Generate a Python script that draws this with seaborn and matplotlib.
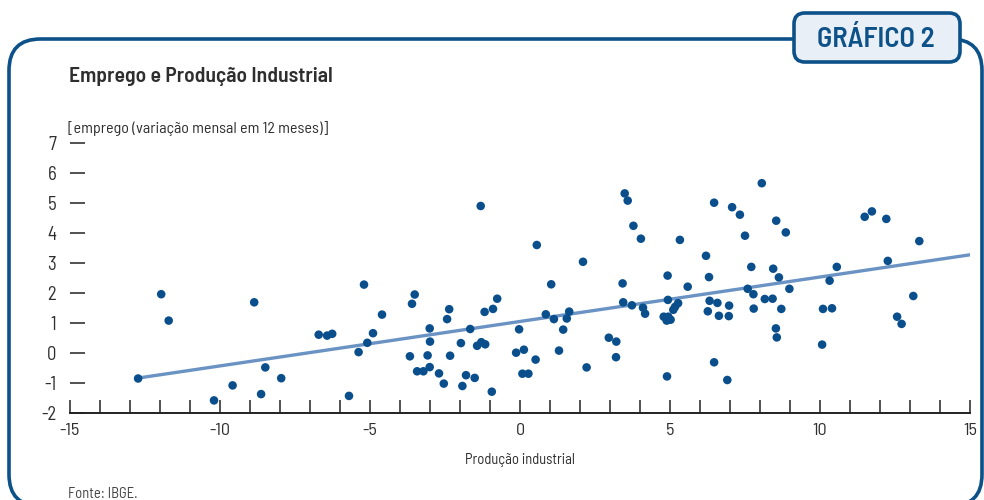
import numpy as np
import pandas as pd
import matplotlib
matplotlib.use("Agg")
import matplotlib.pyplot as plt
from matplotlib.patches import FancyBboxPatch
from matplotlib.ticker import MultipleLocator
import seaborn as sns

# Produção industrial (x) vs. emprego (y), variação em 12 meses
producao = [
    -12.73, -11.96, -11.71, -8.86, -8.49, -9.58, -10.20, -8.63, -7.96, -6.71,
    -6.43, -6.26, -5.20, -5.70, -5.38, -5.09, -4.90, -4.60, -3.51, -3.60,
    -3.67, -3.43, -3.22, -3.01, -3.08, -3.00, -3.01, -2.70, -2.54, -2.33,
    -2.43, -2.36, -1.97, -1.80, -1.92, -1.66, -1.51, -1.43, -1.29, -1.16,
    -1.31, -1.18, -0.90, -0.76, -0.94, -0.13, -0.03, 0.13, 0.08, 0.28,
    0.52, 0.56, 1.04, 0.86, 1.13, 1.30, 1.56, 1.64, 1.44, 2.22,
    2.10, 2.96, 3.21, 3.20, 3.42, 3.44, 3.73, 3.49, 3.59, 3.78,
    4.03, 4.10, 4.17, 4.92, 4.93, 4.79, 4.89, 5.02, 4.94, 4.90,
    5.11, 5.17, 5.27, 5.33, 5.59, 6.20, 6.30, 6.32, 6.26, 6.58,
    6.63, 6.47, 6.47, 6.91, 6.97, 6.96, 7.07, 7.33, 7.50, 7.59,
    7.71, 7.78, 7.79, 8.06, 8.16, 8.42, 8.44, 8.54, 8.63, 8.71,
    8.53, 8.56, 8.86, 8.98, 10.07, 10.10, 10.40, 10.32, 10.56, 11.49,
    11.73, 12.21, 12.26, 13.31, 13.11, 12.57, 12.72,
]
emprego = [
    -0.85, 1.96, 1.08, 1.69, -0.48, -1.08, -1.58, -1.37, -0.84, 0.61,
    0.58, 0.64, 2.28, -1.43, 0.03, 0.34, 0.66, 1.28, 1.95, 1.64,
    -0.11, -0.61, -0.61, -0.47, -0.08, 0.38, 0.82, -0.68, -1.02, -0.09,
    1.13, 1.46, 0.33, -0.74, -1.10, 0.80, -0.83, 0.24, 0.36, 0.29,
    4.90, 1.37, 1.47, 1.81, -1.29, 0.01, 0.79, 0.11, -0.69, -0.69,
    -0.22, 3.60, 2.29, 1.29, 1.13, 0.08, 1.15, 1.38, 0.78, -0.48,
    3.04, 0.51, 0.38, -0.14, 2.32, 1.69, 1.59, 5.32, 5.08, 4.24,
    3.81, 1.51, 1.31, 2.58, 1.77, 1.21, 1.08, 1.11, 1.21, -0.78,
    1.44, 1.54, 1.66, 3.77, 2.21, 3.24, 2.53, 1.74, 1.39, 1.67,
    1.24, 5.01, -0.31, -0.90, 1.58, 1.23, 4.86, 4.61, 3.91, 2.14,
    2.87, 1.96, 1.48, 5.66, 1.80, 1.81, 2.81, 4.41, 2.52, 1.47,
    0.82, 0.52, 4.02, 2.14, 0.28, 1.47, 1.49, 2.41, 2.87, 4.54,
    4.72, 4.47, 3.07, 3.73, 1.90, 1.21, 0.97,
]

x_ticks = [-15, -10, -5, 0, 5, 10, 15]
y_ticks = [-2, -1, 0, 1, 2, 3, 4, 5, 6, 7]

titulo = "Emprego e Produção Industrial"
rotulo_y = "[emprego (variação mensal em 12 meses)]"
rotulo_x = "Produção industrial"
fonte = "Fonte: IBGE."
selo = "GRÁFICO 2"

AZUL_ESCURO = "#0d5189"
AZUL_PONTO = "#0a4f8c"
AZUL_LINHA = "#6a93c3"
TEXTO = "#2e2e2e"

sns.set_theme(style="white")
plt.rcParams["font.family"] = ["Barlow Semi Condensed", "Sofia Sans Condensed",
                               "Liberation Sans Narrow", "DejaVu Sans"]
plt.rcParams["axes.unicode_minus"] = False

df = pd.DataFrame({"producao": producao, "emprego": emprego})

W, H = 984, 500
fig = plt.figure(figsize=(W / 100, H / 100), dpi=100)
fig.patch.set_facecolor("white")


def fx(px):
    return px / W


def fy(py):
    return 1 - py / H


# Moldura arredondada e selo do gráfico
moldura = FancyBboxPatch((fx(9), fy(506)), fx(982 - 9), (506 - 39) / H,
                         boxstyle="round,pad=0,rounding_size=0.032",
                         transform=fig.transFigure, fill=False,
                         edgecolor=AZUL_ESCURO, linewidth=2.6,
                         mutation_aspect=W / H)
fig.add_artist(moldura)
caixa = FancyBboxPatch((fx(794), fy(62)), fx(960 - 794), (62 - 13) / H,
                       boxstyle="round,pad=0,rounding_size=0.011",
                       transform=fig.transFigure, facecolor="#e9eff7",
                       edgecolor=AZUL_ESCURO, linewidth=2.6,
                       mutation_aspect=W / H, zorder=5)
fig.add_artist(caixa)
fig.text(fx(876), fy(39), selo, ha="center", va="center",
         fontsize=20.5, fontweight=600, color=AZUL_ESCURO, zorder=6)

fig.text(fx(69), fy(77), titulo, ha="left", va="center",
         fontsize=15.6, fontweight=600, color=TEXTO)
fig.text(fx(68), fy(129), rotulo_y, ha="left", va="center",
         fontsize=11.5, color=TEXTO)
fig.text(fx(68), fy(494), fonte, ha="left", va="center",
         fontsize=10.5, color="#444444")

ax = fig.add_axes([fx(70), fy(413), 900 / W, 270 / H])
ax.set_facecolor("none")

sns.scatterplot(data=df, x="producao", y="emprego", ax=ax, s=38,
                color=AZUL_PONTO, edgecolor="none", zorder=3)

# Reta de tendência por mínimos quadrados
coef = np.polyfit(df["producao"], df["emprego"], 1)
x_reta = np.array([df["producao"].min(), 15.0])
reta = pd.DataFrame({"producao": x_reta, "emprego": np.polyval(coef, x_reta)})
sns.lineplot(data=reta, x="producao", y="emprego", ax=ax, color=AZUL_LINHA,
             linewidth=2.4, zorder=2)

ax.set_xlim(-15, 15)
ax.set_ylim(-2, 7)
ax.set_xticks(x_ticks)
ax.set_yticks(y_ticks)
ax.xaxis.set_minor_locator(MultipleLocator(1))
ax.set_xlabel(rotulo_x, fontsize=10.5, color=TEXTO, labelpad=11)
ax.set_ylabel("")

for side in ["top", "right", "left"]:
    ax.spines[side].set_visible(False)
ax.spines["bottom"].set_color("#222222")
ax.spines["bottom"].set_linewidth(1.4)

ax.tick_params(axis="x", which="both", direction="in", length=9.5, width=1.1,
               color="#222222", labelsize=13, labelcolor=TEXTO, pad=7,
               bottom=True)
ax.tick_params(axis="y", which="major", direction="in", length=10.5, width=1.1,
               color="#222222", labelsize=13.5, labelcolor=TEXTO, pad=10, left=True)
ax.grid(False)

fig.savefig("out.png", dpi=100, facecolor="white")
